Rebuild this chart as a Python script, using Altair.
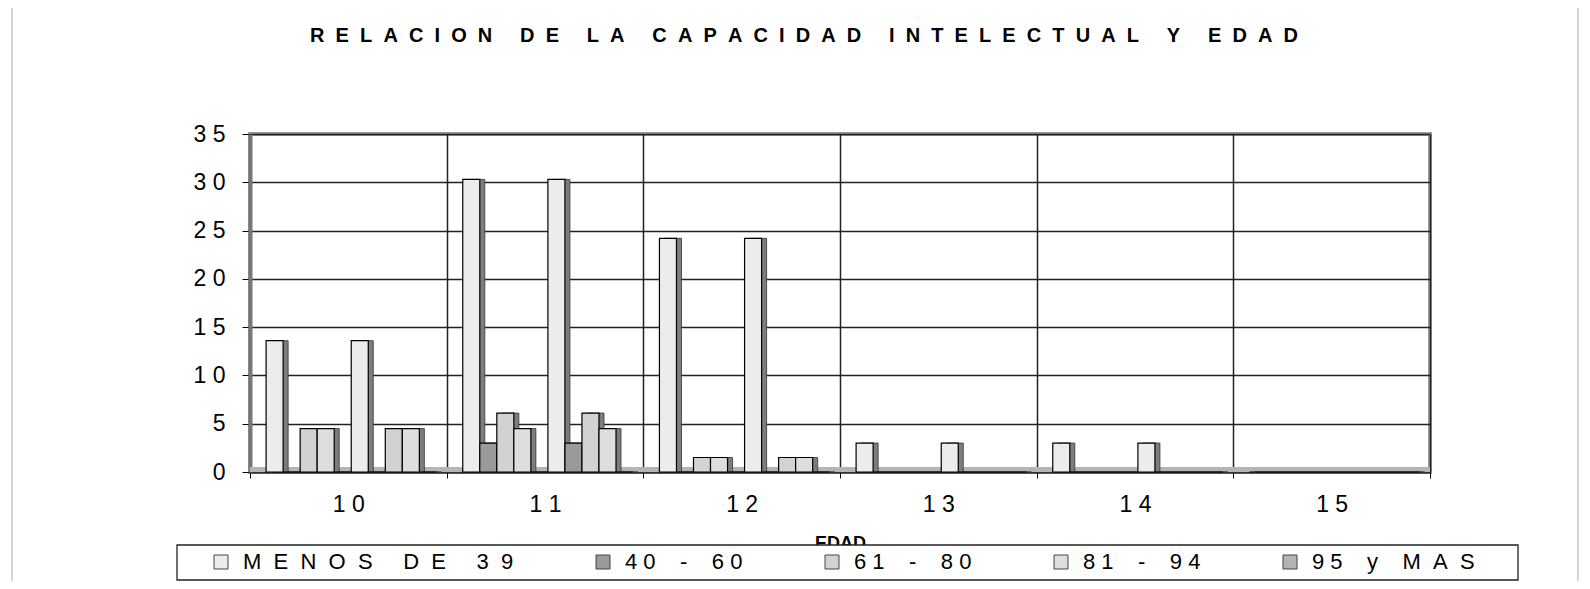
import altair as alt
import pandas as pd

NB = "\u00a0"

ages = ["10", "11", "12", "13", "14", "15"]
series = ["MENOS DE 39", "40 - 60", "61 - 80", "81 - 94", "95 y MAS"]
menos = [13.6, 30.3, 24.2, 3.0, 3.0, 0.0]
s40_60 = [0.0, 3.0, 0.0, 0.0, 0.0, 0.0]
s61_80 = [4.5, 6.1, 1.5, 0.0, 0.0, 0.0]
s81_94 = [4.5, 4.5, 1.5, 0.0, 0.0, 0.0]
s95 = [0.0, 0.0, 0.0, 0.0, 0.0, 0.0]
y_ticks = [0, 5, 10, 15, 20, 25, 30, 35]
colors = ["#ececec", "#9a9a9a", "#d2d2d2", "#dedede", "#b4b4b4"]
copies = ["A", "B"]

title_words = ["RELACION", "DE", "LA", "CAPACIDAD", "INTELECTUAL", "Y", "EDAD"]
title_text = (NB * 5).join((NB * 2).join(w) for w in title_words)

legend_display = {
    "MENOS DE 39": (NB * 5).join((NB * 2).join(w) for w in ["MENOS", "DE", "39"]),
    "40 - 60": "4" + NB + "0" + NB * 4 + "-" + NB * 4 + "6" + NB + "0",
    "61 - 80": "6" + NB + "1" + NB * 4 + "-" + NB * 4 + "8" + NB + "0",
    "81 - 94": "8" + NB + "1" + NB * 4 + "-" + NB * 4 + "9" + NB + "4",
    "95 y MAS": "9" + NB + "5" + NB * 4 + "y" + NB * 4 + (NB * 2).join("MAS"),
}

vals = [menos, s40_60, s61_80, s81_94, s95]
rows = []
slots = []
for c in copies:
    for si, s in enumerate(series):
        slots.append(f"{c}{si}")
for ai, a in enumerate(ages):
    for c in copies:
        for si, s in enumerate(series):
            rows.append({"age": a, "series": s, "slot": f"{c}{si}", "value": vals[si][ai]})
df = pd.DataFrame(rows)

spaced1 = f"join(split(datum.label, ''), '{NB}')"
legend_expr = "{" + ", ".join(f"'{k}': '{v}'" for k, v in legend_display.items()) + "}[datum.label]"

x_enc = alt.X("age:N", sort=ages,
              scale=alt.Scale(paddingInner=0, paddingOuter=0),
              axis=alt.Axis(title="EDAD", titleFontSize=18, titleFontWeight="bold",
                            titleFont="Liberation Sans",
                            titleY=76, titleBaseline="alphabetic",
                            tickBand="extent", grid=True, gridColor="#222", gridWidth=1.5,
                            labelAngle=0, labelFontSize=23, labelPadding=15,
                            labelExpr=spaced1, tickSize=6, tickColor="black",
                            domainColor="#333", domainWidth=2, labelColor="black",
                            labelFont="Liberation Sans"))
y_enc = alt.Y("value:Q", scale=alt.Scale(domain=[0, 35]),
              axis=alt.Axis(title=None, values=y_ticks, grid=True, gridColor="#222",
                            gridWidth=1.5, labelExpr=spaced1, labelFontSize=23,
                            labelPadding=17, tickSize=8, tickColor="black",
                            domainColor="#777", domainWidth=4, labelColor="black",
                            labelFont="Liberation Sans"))

sides = alt.Chart(df).mark_bar(fill="#7d7d7d", stroke="#333", strokeWidth=0.8).encode(
    x=x_enc,
    xOffset=alt.XOffset("slot:N", sort=slots,
                        scale=alt.Scale(paddingInner=0, paddingOuter=0.775, align=0.8)),
    y=y_enc,
)

bars = alt.Chart(df).mark_bar(stroke="black", strokeWidth=1.2).encode(
    x=x_enc,
    xOffset=alt.XOffset("slot:N", sort=slots,
                        scale=alt.Scale(paddingInner=0, paddingOuter=0.775, align=0.61)),
    y=y_enc,
    color=alt.Color("series:N", sort=series,
                    scale=alt.Scale(domain=series, range=colors),
                    legend=alt.Legend(orient="none", legendX=-40, legendY=417,
                                      direction="horizontal", title=None,
                                      symbolType="square", symbolSize=196,
                                      symbolStrokeColor="#444", symbolStrokeWidth=1,
                                      labelFontSize=22, labelFont="Liberation Sans",
                                      labelColor="black", columnPadding=78,
                                      labelOffset=11, padding=0, labelLimit=0,
                                      labelExpr=legend_expr)),
)

title_df = pd.DataFrame({"t": [title_text]})
title = alt.Chart(title_df).mark_text(
    fontSize=20, fontWeight="bold", font="Liberation Sans", color="black",
    align="center", baseline="middle"
).encode(text="t:N", x=alt.value(554), y=alt.value(-98))

frame_df = pd.DataFrame({"k": [1]})
frame = alt.Chart(frame_df).mark_rect(fill=None, stroke="#aaa", strokeWidth=1).encode(
    x=alt.value(-238), x2=alt.value(1328), y=alt.value(-128), y2=alt.value(450)
)
floor = alt.Chart(frame_df).mark_rect(fill="#b5b5b5", stroke=None).encode(
    x=alt.value(0), x2=alt.value(1180), y=alt.value(333), y2=alt.value(338)
)
legend_box = alt.Chart(frame_df).mark_rect(fill="white", stroke="#222", strokeWidth=1.3).encode(
    x=alt.value(-73), x2=alt.value(1268), y=alt.value(411), y2=alt.value(446)
)

chart = alt.layer(frame, floor, sides, bars, legend_box, title).resolve_scale(
    xOffset="independent"
).properties(
    width=1180, height=338,
    autosize=alt.AutoSizeParams(type="none"),
    padding={"left": 242, "top": 126, "right": 152, "bottom": 109},
    background="white",
).configure_view(stroke="#999", strokeWidth=4)

chart.save("out.html", embed_options={"renderer": "svg", "actions": False})
